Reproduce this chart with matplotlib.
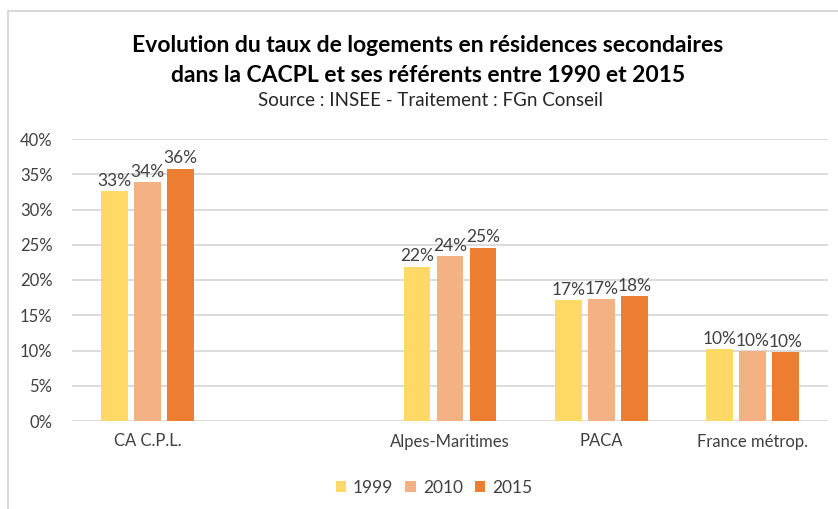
import matplotlib
matplotlib.use("Agg")
import matplotlib.pyplot as plt
from matplotlib.patches import Rectangle
import numpy as np

plt.rcParams['font.family'] = ['Lato', 'DejaVu Sans']

categories = ["CA C.P.L.", "", "Alpes-Maritimes", "PACA", "France métrop."]
series_names = ["1999", "2010", "2015"]
v1999 = [0.326, None, 0.219, 0.171, 0.1015]
v2010 = [0.3395, None, 0.2345, 0.1725, 0.099]
v2015 = [0.358, None, 0.246, 0.177, 0.0975]
labels1999 = ["33%", "", "22%", "17%", "10%"]
labels2010 = ["34%", "", "24%", "17%", "10%"]
labels2015 = ["36%", "", "25%", "18%", "10%"]
yticks = [0, 0.05, 0.10, 0.15, 0.20, 0.25, 0.30, 0.35, 0.40]
ytick_labels = ["0%", "5%", "10%", "15%", "20%", "25%", "30%", "35%", "40%"]

colors = ["#FFD966", "#F4B183", "#ED7D31"]
W, H = 838, 509
fig = plt.figure(figsize=(W/100, H/100), dpi=100)
ax = fig.add_axes([72/W, 1-421/H, (828-72)/W, (421-139)/H])

x = np.arange(len(categories))
bw = 0.178
step = 0.218
for i, (vals, labs) in enumerate(zip([v1999, v2010, v2015], [labels1999, labels2010, labels2015])):
    xs = [xi + (i-1)*step for xi, v in zip(x, vals) if v is not None]
    vs = [v for v in vals if v is not None]
    ls = [l for l, v in zip(labs, vals) if v is not None]
    ax.bar(xs, vs, width=bw, color=colors[i], label=series_names[i], zorder=3)
    for xx, vv, ll in zip(xs, vs, ls):
        ax.text(xx, vv + 0.003, ll, ha='center', va='bottom', fontsize=12.5, color='#404040', zorder=4)

ax.set_xlim(-0.5, 4.5)
ax.set_ylim(0, 0.40)
ax.set_yticks(yticks)
ax.set_yticklabels(ytick_labels, fontsize=12, color='#404040')
ax.set_xticks(x)
ax.set_xticklabels(categories, fontsize=12, color='#404040')
ax.tick_params(axis='both', length=0)
ax.tick_params(axis='y', pad=14)
ax.tick_params(axis='x', pad=9)
ax.grid(axis='y', color='#D9D9D9', linewidth=1.3, zorder=0)
for s in ax.spines.values():
    s.set_visible(False)

fig.text(428/W, 1-45/H, "Evolution du taux de logements en résidences secondaires",
         ha='center', va='center', fontsize=16.5, fontweight='bold', color='black')
fig.text(428/W, 1-75/H, "dans la CACPL et ses référents entre 1990 et 2015",
         ha='center', va='center', fontsize=16.5, fontweight='bold', color='black')
fig.text(430/W, 1-101/H, "Source : INSEE - Traitement : FGn Conseil",
         ha='center', va='center', fontsize=13.5, color='#262626')

leg = fig.legend(loc='center', bbox_to_anchor=(434/W, 1-488/H), ncol=3, frameon=False,
                 fontsize=12.5, handlelength=0.6, handleheight=0.6, handletextpad=0.4,
                 columnspacing=0.7)
for t in leg.get_texts():
    t.set_color('#404040')

fig.patches.append(Rectangle((7.5/W, -0.1), 1.2, 1.1 - 10.5/H + 0.0, transform=fig.transFigure,
                             fill=False, edgecolor='#D9D9D9', linewidth=1.5))
fig.savefig("out.png", dpi=100)
